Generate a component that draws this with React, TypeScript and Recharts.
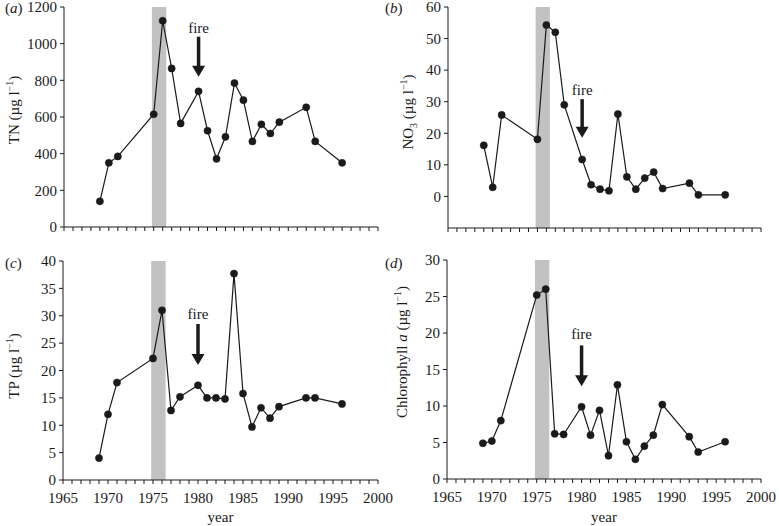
import React from 'react';
import { LineChart, Line, XAxis, YAxis, ReferenceArea, ReferenceLine, ReferenceDot } from 'recharts';

const years = [1969, 1970, 1971, 1975, 1976, 1977, 1978, 1980, 1981, 1982, 1983, 1984, 1985, 1986, 1987, 1988, 1989, 1992, 1993, 1996];
const tn = [140, 350, 385, 615, 1125, 865, 565, 740, 525, 372, 492, 785, 692, 467, 560, 510, 572, 653, 467, 350];
const no3 = [16.2, 2.9, 25.8, 18.1, 54.3, 52, 29, 11.7, 3.7, 2.3, 1.8, 26.1, 6.2, 2.3, 5.8, 7.7, 2.5, 4.2, 0.5, 0.5];
const tp = [4, 12, 17.8, 22.2, 31, 12.7, 15.2, 17.3, 15, 15, 14.8, 37.7, 15.8, 9.7, 13.2, 11.3, 13.4, 15, 15, 13.9];
const chl = [4.9, 5.2, 8.0, 25.2, 26, 6.2, 6.1, 9.9, 6.0, 9.4, 3.2, 12.9, 5.1, 2.7, 4.5, 6.0, 10.2, 5.8, 3.7, 5.1];

const yearTicks = Array.from({ length: 36 }, (_, i) => 1965 + i);
const tnTicks = [0, 200, 400, 600, 800, 1000, 1200];
const no3Ticks = [0, 10, 20, 30, 40, 50, 60];
const tpTicks = [0, 5, 10, 15, 20, 25, 30, 35, 40];
const chlTicks = [0, 5, 10, 15, 20, 25, 30];

// shaded period and the fire marker (year, text level, arrow top, arrow tip)
const band = [1974.8, 1976.4];
const fireYear = 1980;
const fireTN = [1087, 1038, 819];
const fireNO3 = [33.6, 30.8, 18.6];
const fireTP = [30.4, 28.5, 21];
const fireChl = [19.9, 18.3, 12.7];

const font = '"Liberation Serif", "DejaVu Serif", serif';
const ink = '#1a1a1a';

const toRows = (vals: number[]) => years.map((y, i) => ({ year: y, v: vals[i] }));

const ArrowHead = (p: any) => (
  <polygon points={`${p.cx - 6.5},${p.cy - 11} ${p.cx + 6.5},${p.cy - 11} ${p.cx},${p.cy}`} fill={ink} />
);
const FireText = (p: any) => (
  <text x={p.cx} y={p.cy + 5} textAnchor="middle" fontFamily={font} fontSize={15} fill={ink}>fire</text>
);

type PanelProps = {
  left: number; top: number; width: number; height: number;
  margin: { top: number; right: number; bottom: number; left: number };
  yWidth: number; xHeight: number;
  vals: number[]; ticks: number[]; domain: [number, number];
  fire: number[]; showYears: boolean;
};

function Panel(p: PanelProps) {
  return (
    <div style={{ position: 'absolute', left: p.left, top: p.top }}>
      <LineChart width={p.width} height={p.height} data={toRows(p.vals)} margin={p.margin}>
        <ReferenceArea x1={band[0]} x2={band[1]} fill="#c2c2c2" fillOpacity={1} stroke="none" />
        <XAxis
          type="number" dataKey="year" domain={[1965, 2000]} ticks={yearTicks} interval={0}
          height={p.xHeight} tickSize={4} tickMargin={8} stroke={ink}
          tick={{ fontFamily: font, fontSize: 15, fill: ink }}
          tickFormatter={(v: number) => (p.showYears && v % 5 === 0 ? String(v) : '')}
          label={p.showYears ? { value: 'year', position: 'insideBottom', offset: 4, fontFamily: font, fontSize: 15, fill: ink } : undefined}
        />
        <YAxis
          type="number" domain={p.domain} ticks={p.ticks} interval={0} width={p.yWidth}
          tickSize={4} tickMargin={3} stroke={ink}
          tick={{ fontFamily: font, fontSize: 15, fill: ink }}
        />
        <ReferenceLine segment={[{ x: fireYear, y: p.fire[1] }, { x: fireYear, y: p.fire[2] + 4 * (p.domain[1] - p.domain[0]) / 220 }]} stroke={ink} strokeWidth={3.5} />
        <ReferenceDot x={fireYear} y={p.fire[2]} shape={ArrowHead} />
        <ReferenceDot x={fireYear} y={p.fire[0]} shape={FireText} />
        <Line
          type="linear" dataKey="v" stroke={ink} strokeWidth={1.2}
          dot={{ r: 3.6, fill: ink, stroke: ink, strokeWidth: 0.5 }}
          isAnimationActive={false}
        />
      </LineChart>
    </div>
  );
}

const YLabel = ({ x, y, children }: { x: number; y: number; children: React.ReactNode }) => (
  <div style={{
    position: 'absolute', left: x, top: y, transform: 'translate(-50%, -50%) rotate(-90deg)',
    whiteSpace: 'nowrap', fontFamily: font, fontSize: 15, color: ink, lineHeight: '18px',
  }}>{children}</div>
);

const Letter = ({ x, y, l }: { x: number; y: number; l: string }) => (
  <div style={{ position: 'absolute', left: x, top: y, fontFamily: font, fontSize: 15, color: ink, lineHeight: '16px' }}>
    (<i>{l}</i>)
  </div>
);

const sup = { fontSize: 10, verticalAlign: '6px', lineHeight: 0 } as const;
const sub = { fontSize: 10, verticalAlign: '-4px', lineHeight: 0 } as const;

export default function App() {
  return (
    <div style={{ position: 'absolute', left: 0, top: 0, width: 779, height: 526, background: '#fff', overflow: 'hidden' }}>
      <Panel left={0} top={0} width={390} height={250} margin={{ top: 7, right: 12, bottom: 0, left: 0 }}
        yWidth={64} xHeight={23} vals={tn} ticks={tnTicks} domain={[0, 1200]} fire={fireTN} showYears={false} />
      <Panel left={390} top={0} width={389} height={250} margin={{ top: 7, right: 18, bottom: 0, left: 0 }}
        yWidth={58} xHeight={22} vals={no3} ticks={no3Ticks} domain={[-10, 60]} fire={fireNO3} showYears={false} />
      <Panel left={0} top={250} width={402} height={276} margin={{ top: 11, right: 24, bottom: 0, left: 0 }}
        yWidth={63} xHeight={46} vals={tp} ticks={tpTicks} domain={[0, 40]} fire={fireTP} showYears={true} />
      <Panel left={390} top={250} width={389} height={276} margin={{ top: 10, right: 18, bottom: 0, left: 0 }}
        yWidth={57} xHeight={47} vals={chl} ticks={chlTicks} domain={[0, 30]} fire={fireChl} showYears={true} />

      <Letter x={5} y={0} l="a" />
      <Letter x={385} y={0} l="b" />
      <Letter x={5} y={255} l="c" />
      <Letter x={385} y={255} l="d" />

      <YLabel x={14} y={110}>TN (µg l<span style={sup}>−1</span>)</YLabel>
      <YLabel x={408} y={112}>NO<span style={sub}>3</span> (µg l<span style={sup}>−1</span>)</YLabel>
      <YLabel x={14} y={366}>TP (µg l<span style={sup}>−1</span>)</YLabel>
      <YLabel x={402} y={352}>Chlorophyll <i>a</i> (µg l<span style={sup}>−1</span>)</YLabel>
    </div>
  );
}
